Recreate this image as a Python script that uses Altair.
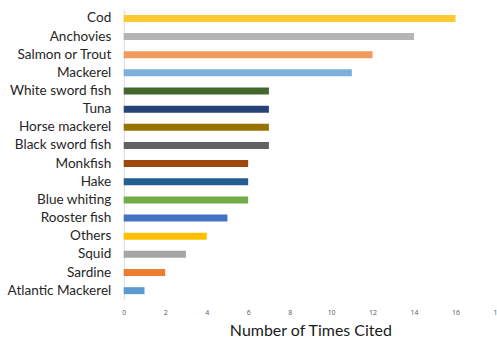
import altair as alt
import pandas as pd

species = [
    "Cod", "Anchovies", "Salmon or Trout", "Mackerel", "White sword fish",
    "Tuna", "Horse mackerel", "Black sword fish", "Monkfish", "Hake",
    "Blue whiting", "Rooster fish", "Others", "Squid", "Sardine",
    "Atlantic Mackerel",
]
times_cited = [16, 14, 12, 11, 7, 7, 7, 7, 6, 6, 6, 5, 4, 3, 2, 1]
bar_colors = [
    "#FFC933", "#B5B5B5", "#F39B5C", "#7DAFDD", "#43682B",
    "#264478", "#997300", "#636363", "#9E480E", "#255E91",
    "#70AD47", "#4472C4", "#FFC000", "#A5A5A5", "#ED7D31",
    "#5B9BD5",
]
x_ticks = [0, 2, 4, 6, 8, 10, 12, 14, 16, 18]

df = pd.DataFrame({"species": species, "cited": times_cited, "color": bar_colors})

chart = (
    alt.Chart(df)
    .mark_bar(size=7)
    .encode(
        x=alt.X(
            "cited:Q",
            title="Number of Times Cited",
            scale=alt.Scale(domain=[0, 18], nice=False),
            axis=alt.Axis(
                values=x_ticks,
                grid=False,
                domain=False,
                ticks=False,
                labelFlush=False,
                labelOverlap=False,
                labelFontSize=7,
                labelColor="#595959",
                labelPadding=9,
                labelFont="Open Sans",
                titleFont="Lato",
                titleFontSize=16,
                titleFontWeight="normal",
                titleColor="#1a1a1a",
                titlePadding=7,
            ),
        ),
        y=alt.Y(
            "species:N",
            sort=None,
            title=None,
            axis=alt.Axis(
                ticks=False,
                domainColor="#D9D9D9",
                domainWidth=1,
                labelFontSize=13.6,
                labelFont="Lato",
                labelColor="#262626",
                labelPadding=13,
            ),
        ),
        color=alt.Color("color:N", scale=None, legend=None),
    )
    .properties(
        width=374,
        height=291,
        autosize=alt.AutoSizeParams(type="none"),
        padding={"left": 124, "top": 9, "right": 0, "bottom": 38},
    )
    .configure_view(stroke=None)
    .configure_scale(bandPaddingInner=0.6, bandPaddingOuter=0.3)
)

chart.save("out.html", embed_options={"renderer": "svg", "actions": False})
